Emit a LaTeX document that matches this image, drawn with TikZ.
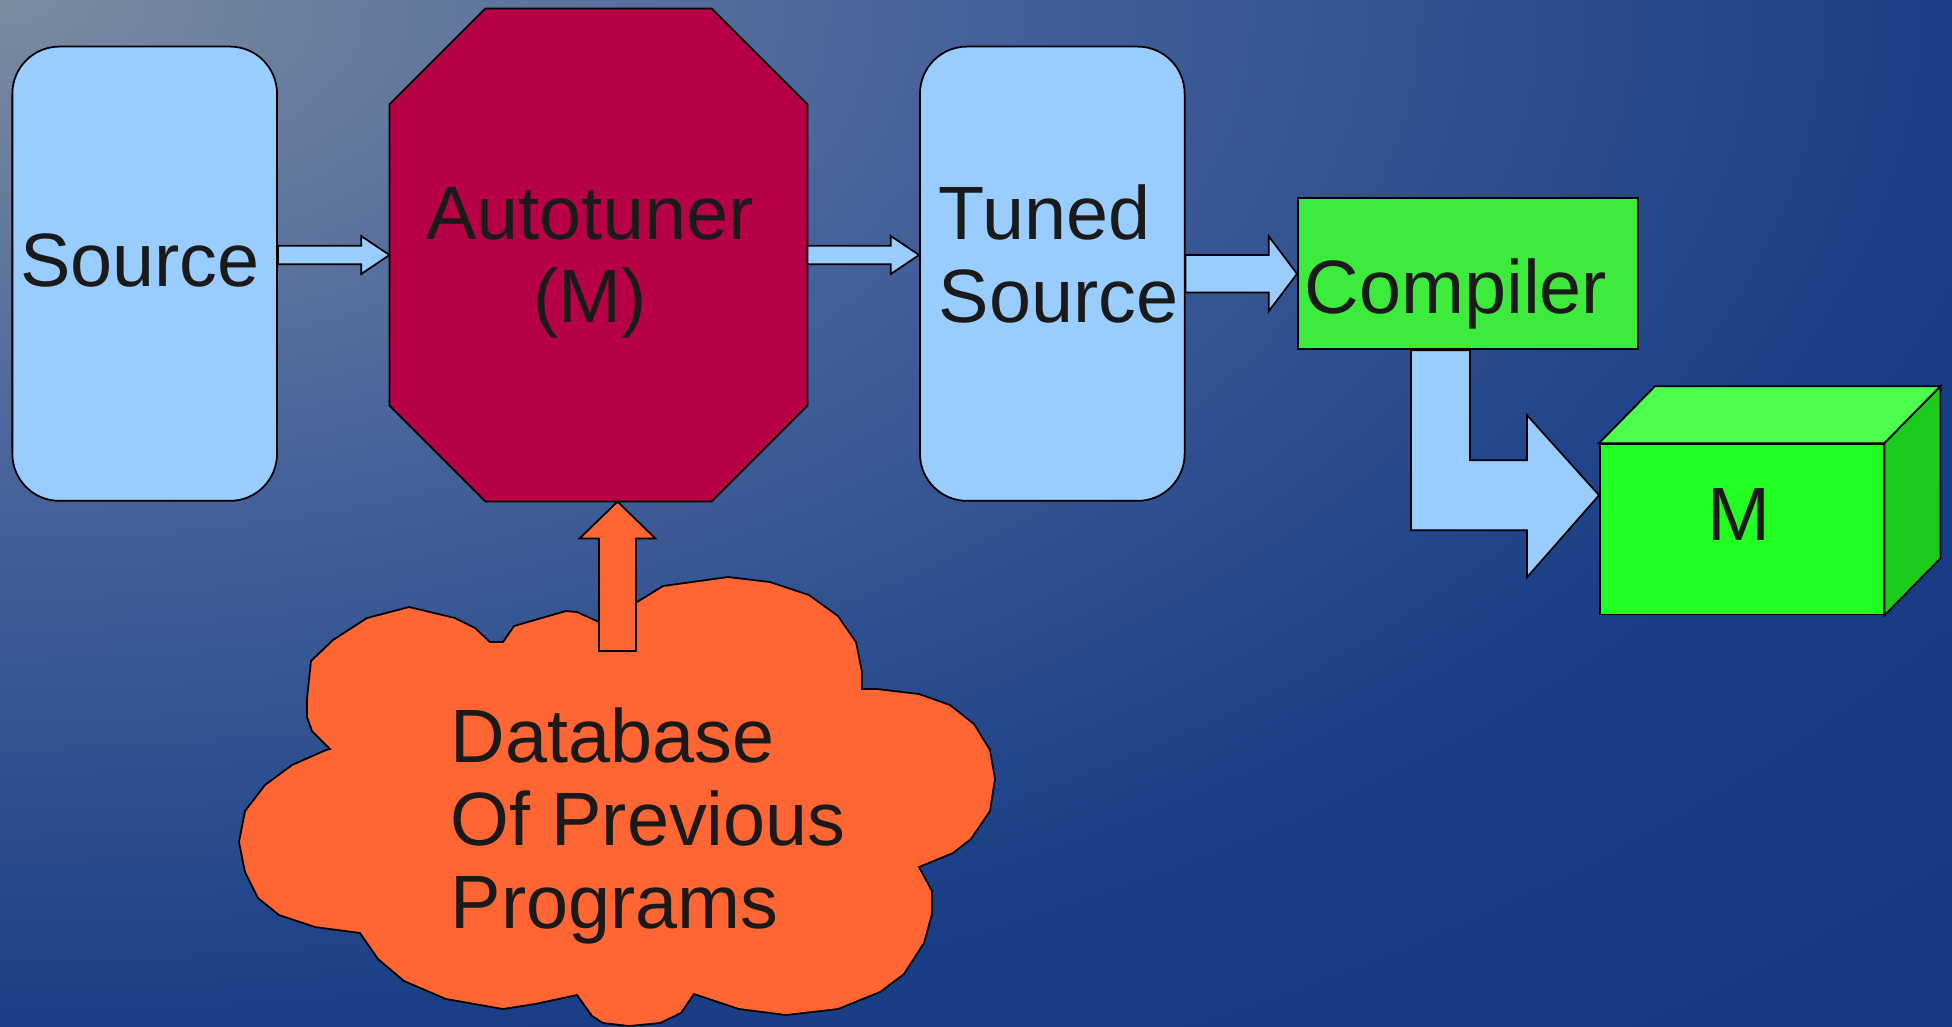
\documentclass[tikz,border=0pt]{standalone}
\usepackage{fontspec}
\setmainfont{Liberation Sans}
\usetikzlibrary{calc}

\definecolor{bgA}{HTML}{7B8BA0}
\definecolor{bgB}{HTML}{44619A}
\definecolor{bgC}{HTML}{1B3F87}
\definecolor{bgD}{HTML}{153980}
\definecolor{srcblue}{HTML}{99CCFF}
\definecolor{autored}{HTML}{B80047}
\definecolor{dborange}{HTML}{FF6633}
\definecolor{compgreen}{HTML}{3DEB3D}
\definecolor{mfront}{HTML}{22FF22}
\definecolor{mtop}{HTML}{4DFF4D}
\definecolor{mside}{HTML}{1CCC1C}
\definecolor{txtgray}{HTML}{1A1A1A}

\pgfdeclareradialshading{slidebg}{\pgfpoint{0bp}{0bp}}{color(0bp)=(bgA); color(12.5bp)=(bgB); color(25bp)=(bgC); color(35bp)=(bgD); color(50bp)=(bgD)}

\tikzset{
  box/.style={draw=black, line width=0.5pt, inner sep=0pt},
  srcbox/.style={box, fill=srcblue, rounded corners=0.47cm, minimum width=2.645cm, minimum height=4.54cm},
  autobox/.style={inner sep=0pt, minimum width=4.164cm, minimum height=4.914cm},
  compbox/.style={box, fill=compgreen, minimum width=3.4cm, minimum height=1.51cm},
  mbox/.style={box, fill=mfront, minimum width=2.836cm, minimum height=1.703cm},
  barrow/.style={draw=black, line width=0.5pt, fill=srcblue},
  lbl/.style={text=txtgray, inner sep=0pt, font=\fontsize{21.5}{23.6}\selectfont},
}

% block arrow: [style]{from}{to}{shaft half width}{head half width}{head length}
\newcommand{\blockarrow}[6][]{%
  \coordinate (hb) at ($(#3)!#6!(#2)$);
  \filldraw[barrow,#1] ($(#2)!#4!90:(#3)$) -- ($(hb)!#4!-90:(#2)$) -- ($(hb)!#5!-90:(#2)$) -- (#3)
    -- ($(hb)!#5!90:(#2)$) -- ($(hb)!#4!90:(#2)$) -- ($(#2)!#4!-90:(#3)$) -- cycle;}

\begin{document}
\begin{tikzpicture}[x=0.01cm,y=-0.01cm]
  \useasboundingbox (0,0) rectangle (1952,1026);
  \begin{scope}
    \clip (0,0) rectangle (1952,1026);
    \shade[shading=slidebg] (-1952,-1026) rectangle (1952,1026);
  \end{scope}

  \node[srcbox] (src) at (144.7,273.7) {};
  \node[autobox] (auto) at (598.5,255) {};
  \filldraw[line width=0.5pt, fill=autored] ($(auto.north west)+(96,0)$) -- ($(auto.north east)+(-96,0)$)
    -- ($(auto.north east)+(0,96)$) -- ($(auto.south east)+(0,-96)$) -- ($(auto.south east)+(-96,0)$)
    -- ($(auto.south west)+(96,0)$) -- ($(auto.south west)+(0,-96)$) -- ($(auto.north west)+(0,96)$) -- cycle;
  \node[srcbox] (tuned) at (1052.3,273.7) {};
  \node[compbox] (comp) at (1468,273.8) {};
  \node[mbox] (m) at (1741.8,529.2) {};
  \filldraw[line width=0.5pt, fill=mtop] (m.north west) -- ($(m.north west)+(56,-57)$) -- ($(m.north east)+(56,-57)$) -- (m.north east) -- cycle;
  \filldraw[line width=0.5pt, fill=mside] (m.north east) -- ($(m.north east)+(56,-57)$) -- ($(m.south east)+(56,-57)$) -- (m.south east) -- cycle;

  \blockarrow{src.east |- auto.west}{auto.west}{0.093cm}{0.19cm}{0.283cm}
  \blockarrow{auto.east}{tuned.west |- auto.east}{0.093cm}{0.19cm}{0.283cm}
  \blockarrow{tuned.east}{comp.west}{0.187cm}{0.375cm}{0.283cm}

  % compiler -> M
  \coordinate (bend) at ($(comp.south)+(-27.5,0)$);
  \coordinate (tip) at ($(m.west)+(0,-34)$);
  \filldraw[barrow] ($(bend)+(-29.5,0)$) -- ($(bend)+(29.5,0)$) -- ($(bend |- tip)+(29.5,-35)$) -- ($(tip)+(-72,-35)$)
    -- ($(tip)+(-72,-80)$) -- (tip) -- ($(tip)+(-72,82)$) -- ($(tip)+(-72,35)$) -- ($(bend |- tip)+(-29.5,35)$) -- cycle;

  % database cloud
  \filldraw[line width=0.5pt, fill=dborange] (637,602) -- (663,586) -- (728,577) -- (770,582) -- (809,595) -- (838,616)
    -- (856,642) -- (862,672) -- (862,689) -- (877,689) -- (919,694) -- (950,705) -- (974,724) -- (990,750)
    -- (995,779) -- (990,811) -- (971,839) -- (953,853) -- (919,867) -- (932,891) -- (932,914) -- (924,943)
    -- (904,974) -- (880,992) -- (838,1009) -- (786,1015) -- (739,1009) -- (694,994) -- (681,1013) -- (660,1023)
    -- (629,1026) -- (603,1023) -- (592,1016) -- (577,995) -- (535,1004) -- (503,1009) -- (446,999) -- (404,981)
    -- (378,959) -- (360,933) -- (315,927) -- (279,915) -- (258,898) -- (245,872) -- (239,842) -- (245,811)
    -- (265,785) -- (292,765) -- (326,750) -- (330,749) -- (312,731) -- (307,717) -- (307,699) -- (311,661)
    -- (333,640) -- (367,618) -- (409,607) -- (430,612) -- (455,618) -- (475,628) -- (490,642) -- (503,642)
    -- (514,626) -- (545,617) -- (566,611) -- (577,612) -- (599,622) -- cycle;
  \coordinate (dbtop) at (617.5,651);
  \blockarrow[fill=dborange]{dbtop}{auto.south -| dbtop}{0.185cm}{0.38cm}{0.37cm}

  \node[lbl, anchor=base] (srcl) at (140,286.7) {Source};
  \node[lbl, align=center] (autol) at (590,263) {Autotuner\\(M)};
  \node[lbl, align=left, anchor=west] (tunedl) at (938,253.5) {Tuned\\Source};
  \node[lbl, anchor=base west] (compl) at (1304,313) {Compiler};
  \node[lbl, anchor=base] (ml) at (1739,540) {M};
  \node[lbl, align=left, anchor=west] (dbl) at (450,826) {Database\\Of Previous\\Programs};
\end{tikzpicture}
\end{document}
